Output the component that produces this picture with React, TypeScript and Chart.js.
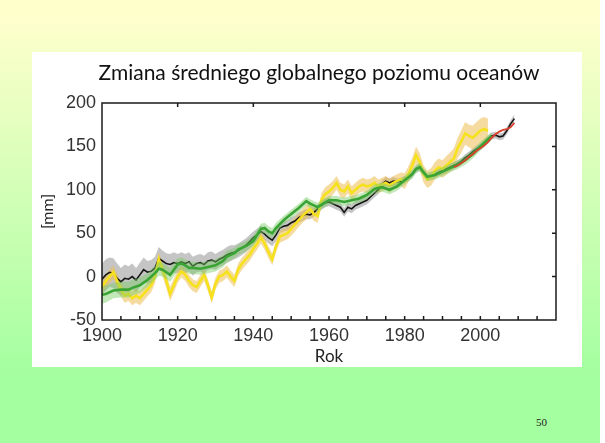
import React, { useEffect, useRef } from "react";
import { Chart, registerables } from "chart.js";

Chart.register(...registerables);

const TITLE = "Zmiana średniego globalnego poziomu oceanów";
const X_TITLE = "Rok";
const Y_TITLE = "[mm]";
const PAGE_NUMBER = "50";

const X_MIN = 1900;
const X_MAX = 2020;
const Y_MIN = -50;
const Y_MAX = 200;

// Tide-gauge reconstruction (black line, grey band), yearly from 1900
const blackStart = 1900;
const blackValues = [
  -3, 2, 5, 4, -2, -6, -2, -3, 0, -4,
  2, 8, 5, 6, 10, 21, 18, 15, 14, 16,
  15, 17, 15, 17, 12, 15, 16, 14, 18, 19,
  17, 20, 22, 25, 27, 28, 30, 33, 36, 40,
  45, 48, 52, 49, 45, 42, 48, 56, 58, 59,
  62, 64, 68, 70, 72, 71, 74, 78, 82, 85,
  86, 84, 82, 80, 74, 80, 78, 82, 84, 86,
  88, 92, 96, 100, 106, 110, 108, 110, 109, 110,
  112, 114, 118, 124, 126, 120, 114, 116, 118, 120,
  122, 124, 126, 128, 130, 133, 137, 140, 144, 147,
  150, 154, 158, 162, 163, 161, 162, 168, 176, 182,
];
const blackHalf = [
  18, 18, 17, 17, 17, 16, 16, 15, 15, 14,
  14, 14, 13, 13, 13, 13, 12, 12, 12, 12,
  11, 11, 11, 11, 11, 10, 10, 10, 10, 10,
  9, 9, 9, 9, 9, 8, 8, 8, 8, 8,
  7, 7, 7, 7, 7, 7, 7, 6, 6, 6,
  6, 6, 6, 6, 6, 5, 5, 5, 5, 5,
  5, 5, 5, 5, 5, 5, 5, 5, 5, 5,
  5, 5, 5, 5, 5, 5, 5, 5, 4, 4,
  4, 4, 4, 4, 4, 4, 4, 4, 4, 4,
  4, 4, 4, 4, 4, 4, 4, 4, 4, 4,
  4, 4, 4, 4, 4, 4, 4, 4, 4, 5,
];

// Second reconstruction (yellow line, orange band), yearly from 1900
const yellowStart = 1900;
const yellowValues = [
  -12, -5, 0, 5, -5, -15, -22, -20, -25, -22,
  -25, -20, -15, -10, 0, 20, 8, -5, -20, -10,
  0, 6, 2, -5, -10, -12, -5, 2, -10, -24,
  -8, 0, 2, 6, 0, -5, 8, 15, 20, 25,
  32, 38, 45, 38, 28, 20, 35, 46, 48, 50,
  55, 60, 65, 70, 74, 78, 72, 70, 88, 95,
  98, 102, 108, 100, 98, 104, 96, 100, 104, 106,
  104, 105, 108, 104, 106, 108, 105, 108, 110, 112,
  110, 118, 128, 140, 132, 118, 112, 115, 122, 126,
  124, 128, 132, 136, 148, 156, 165, 162, 160, 164,
  168, 170, 168,
];
const yellowHalf = [
  8, 8, 8, 8, 8, 8, 8, 8, 8, 8,
  8, 8, 8, 8, 8, 8, 8, 8, 8, 8,
  7, 7, 7, 7, 7, 7, 7, 7, 7, 7,
  7, 7, 7, 7, 7, 7, 7, 7, 7, 7,
  7, 7, 7, 7, 7, 7, 7, 7, 7, 7,
  8, 8, 8, 8, 8, 8, 8, 8, 8, 8,
  8, 8, 8, 8, 8, 8, 8, 8, 8, 8,
  8, 8, 8, 8, 8, 8, 8, 8, 8, 8,
  9, 9, 9, 10, 10, 10, 10, 10, 10, 10,
  10, 11, 11, 12, 12, 13, 13, 13, 14, 14,
  14, 14, 14,
];

// Third reconstruction (green line, light-green band)
const greenYears = [
  1900, 1901, 1903, 1905, 1907, 1908, 1910, 1912, 1914, 1915,
  1916, 1917, 1918, 1919, 1920, 1921, 1922, 1923, 1924, 1926,
  1928, 1930, 1932, 1933, 1935, 1936, 1938, 1940, 1941, 1942,
  1943, 1944, 1945, 1946, 1948, 1950, 1952, 1954, 1955, 1956,
  1957, 1958, 1960, 1962, 1964, 1966, 1968, 1970, 1972, 1974,
  1976, 1978, 1980, 1982, 1983, 1984, 1985, 1986, 1988, 1990,
  1992, 1994, 1996, 1998, 2000, 2002, 2003,
];
const greenValues = [
  -21, -20, -16, -15, -15, -13, -10, -4, 4, 9,
  8, 5, 2, 8, 14, 15, 13, 10, 10, 9,
  11, 13, 18, 23, 27, 31, 35, 41, 48, 55,
  56, 52, 50, 56, 65, 72, 79, 87, 84, 82,
  80, 83, 88, 88, 86, 88, 90, 94, 101, 103,
  100, 104, 111, 118, 124, 126, 120, 115, 117, 121,
  125, 129, 134, 141, 150, 158, 162,
];
const greenHalf = [
  10, 10, 9, 9, 9, 9, 9, 8, 8, 8,
  8, 8, 8, 8, 7, 7, 7, 7, 7, 7,
  7, 7, 7, 7, 6, 6, 6, 6, 6, 6,
  6, 6, 6, 6, 5, 5, 5, 5, 5, 5,
  5, 5, 5, 5, 5, 5, 5, 5, 5, 5,
  5, 5, 5, 5, 5, 5, 5, 5, 5, 5,
  5, 5, 5, 5, 5, 5, 5,
];

// Satellite altimetry (red line)
const redYears = [
  1993, 1994, 1995, 1996, 1997, 1998, 1999, 2000, 2001, 2002,
  2003, 2004, 2005, 2006, 2007, 2008, 2009,
];
const redValues = [
  126, 128, 131, 134, 138, 141, 145, 148, 151, 155,
  160, 164, 167, 169, 170, 172, 177,
];

const xTickLabelsMax = 2000;
const bottomTickStep = 5;
const topTickStep = 20;
const rightTickStep = 50;

function seq(start: number, n: number) {
  const out: number[] = [];
  for (let i = 0; i < n; i++) out.push(start + i);
  return out;
}

function pts(xs: number[], ys: number[]) {
  return xs.map((x, i) => ({ x, y: ys[i] }));
}

function band(xs: number[], ys: number[], half: number[], color: string, order: number) {
  const upper = {
    data: xs.map((x, i) => ({ x, y: ys[i] + half[i] })),
    borderWidth: 0,
    pointRadius: 0,
    fill: false,
    order,
  };
  const lower = {
    data: xs.map((x, i) => ({ x, y: ys[i] - half[i] })),
    borderWidth: 0,
    pointRadius: 0,
    fill: "-1",
    backgroundColor: color,
    order,
  };
  return [upper, lower];
}

const framePlugin = {
  id: "frame",
  afterDatasetsDraw(chart: any) {
    const { ctx, chartArea: a, scales } = chart;
    const x = scales.x;
    const y = scales.y;
    ctx.save();
    ctx.strokeStyle = "#1a1a1a";
    ctx.lineWidth = 1.5;
    ctx.strokeRect(a.left, a.top, a.right - a.left, a.bottom - a.top);
    ctx.beginPath();
    for (let v = X_MIN + bottomTickStep; v < X_MAX; v += bottomTickStep) {
      const px = x.getPixelForValue(v);
      ctx.moveTo(px, a.bottom);
      ctx.lineTo(px, a.bottom - 4);
    }
    for (let v = X_MIN + topTickStep; v < X_MAX; v += topTickStep) {
      const px = x.getPixelForValue(v);
      ctx.moveTo(px, a.top);
      ctx.lineTo(px, a.top + 4);
    }
    for (let v = Y_MIN + rightTickStep; v < Y_MAX; v += rightTickStep) {
      const py = y.getPixelForValue(v);
      ctx.moveTo(a.right, py);
      ctx.lineTo(a.right - 4, py);
    }
    ctx.stroke();
    ctx.restore();
  },
};

export default function App() {
  const canvasRef = useRef<HTMLCanvasElement | null>(null);

  useEffect(() => {
    const canvas = canvasRef.current;
    if (!canvas) return;
    const blackYears = seq(blackStart, blackValues.length);
    const yellowYears = seq(yellowStart, yellowValues.length);

    const datasets: any[] = [
      ...band(blackYears, blackValues, blackHalf, "rgba(150,150,150,0.55)", 7),
      ...band(yellowYears, yellowValues, yellowHalf, "rgba(236,190,80,0.55)", 6),
      {
        data: pts(blackYears, blackValues),
        borderColor: "#151515",
        borderWidth: 1.6,
        pointRadius: 0,
        fill: false,
        order: 5,
      },
      {
        data: pts(yellowYears, yellowValues),
        borderColor: "#f6e21c",
        borderWidth: 2.6,
        pointRadius: 0,
        fill: false,
        order: 4,
      },
      ...band(greenYears, greenValues, greenHalf, "rgba(120,205,100,0.45)", 3),
      {
        data: pts(greenYears, greenValues),
        borderColor: "#3aa535",
        borderWidth: 2.6,
        pointRadius: 0,
        fill: false,
        order: 2,
      },
      {
        data: pts(redYears, redValues),
        borderColor: "#d8402a",
        borderWidth: 1.8,
        pointRadius: 0,
        fill: false,
        order: 1,
      },
    ];

    const chart = new Chart(canvas, {
      type: "line",
      data: { datasets },
      plugins: [framePlugin],
      options: {
        animation: false,
        responsive: false,
        maintainAspectRatio: false,
        layout: { padding: { left: 0, right: 26, top: 51, bottom: 0 } },
        elements: { line: { tension: 0 } },
        plugins: {
          legend: { display: false },
          tooltip: { enabled: false },
          title: { display: false },
        },
        scales: {
          x: {
            type: "linear",
            min: X_MIN,
            max: X_MAX,
            grid: { display: false, drawTicks: false },
            border: { display: false },
            ticks: {
              stepSize: 20,
              padding: 5,
              color: "#333",
              font: { family: "Liberation Sans", size: 18 },
              maxRotation: 0,
              callback: (v: any) => (v <= xTickLabelsMax ? String(v) : ""),
            },
            title: {
              display: true,
              text: X_TITLE,
              color: "#222",
              font: { family: "Lato", size: 17 },
              padding: { top: 0, bottom: 0 },
            },
            afterFit: (s: any) => {
              s.height = 47;
            },
          },
          y: {
            min: Y_MIN,
            max: Y_MAX,
            grid: { display: false, drawTicks: false },
            border: { display: false },
            ticks: {
              stepSize: 50,
              padding: 6,
              color: "#333",
              font: { family: "Liberation Sans", size: 18 },
            },
            title: {
              display: true,
              text: Y_TITLE,
              color: "#222",
              font: { family: "Lato", size: 16 },
              padding: { top: 6, bottom: 0 },
            },
            afterFit: (s: any) => {
              s.width = 70;
            },
          },
        },
      } as any,
    });
    return () => chart.destroy();
  }, []);

  return (
    <div
      style={{
        position: "absolute",
        left: 0,
        top: 0,
        width: 605,
        height: 443,
        background: "#ffffff",
        overflow: "hidden",
      }}
    >
      <div
        style={{
          position: "absolute",
          left: 0,
          top: 0,
          width: 600,
          height: 443,
          background: "linear-gradient(to bottom, #ffffcc 4%, #a4ffa0 84%)",
        }}
      />
      <div
        style={{
          position: "absolute",
          left: 32,
          top: 52,
          width: 550,
          height: 315,
          background: "#ffffff",
        }}
      >
        <canvas ref={canvasRef} width={550} height={315} style={{ display: "block" }} />
      </div>
      <div
        style={{
          position: "absolute",
          left: 0,
          top: 58,
          width: 638,
          textAlign: "center",
          fontFamily: "Lato, sans-serif",
          fontSize: 21,
          lineHeight: "28px",
          color: "#111",
          whiteSpace: "nowrap",
        }}
      >
        {TITLE}
      </div>
      <div
        style={{
          position: "absolute",
          left: 536,
          top: 416,
          fontFamily: '"Liberation Serif", "DejaVu Serif", serif',
          fontSize: 11,
          color: "#222",
        }}
      >
        {PAGE_NUMBER}
      </div>
    </div>
  );
}
